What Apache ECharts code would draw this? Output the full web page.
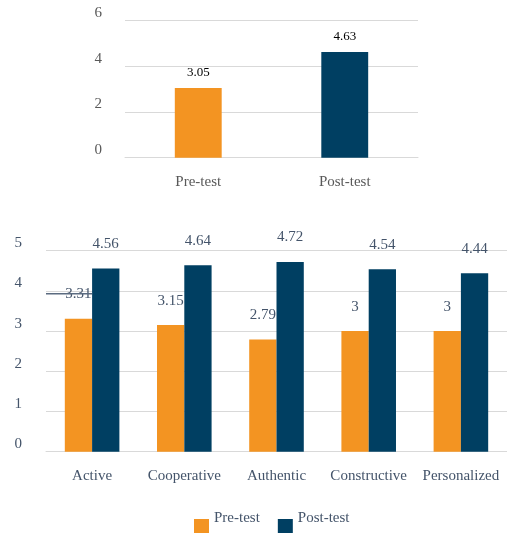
<!DOCTYPE html>
<html><head><meta charset="utf-8">
<script src="https://cdn.jsdelivr.net/npm/echarts@6/dist/echarts.min.js"></script>
<style>html,body{margin:0;padding:0;background:#fff}#c{width:507px;height:535px}</style>
</head><body><div id="c"></div>
<script>
// Top chart data
const overallCategories = ['Pre-test', 'Post-test'];
const overallValues = [3.05, 4.63];
const overallTicks = [0, 2, 4, 6];
// Bottom chart data
const dimensionCategories = ['Active', 'Cooperative', 'Authentic', 'Constructive', 'Personalized'];
const preTestValues = [3.31, 3.15, 2.79, 3, 3];
const postTestValues = [4.56, 4.64, 4.72, 4.54, 4.44];
const dimensionTicks = [0, 1, 2, 3, 4, 5];
const seriesNames = ['Pre-test', 'Post-test'];
// stray leader line seen in the source image: [category position, value]
const strayLineX = [-0.5, 0];
const strayLineY = [3.93, 3.93];

const ORANGE = '#F39422';
const NAVY = '#003F62';
const FONT = '"Liberation Serif", "Times New Roman", serif';
const GRID = '#D9D9D9';

const chart = echarts.init(document.getElementById('c'));
chart.setOption({
  animation: false,
  textStyle: { fontFamily: FONT },
  color: [ORANGE, NAVY],
  grid: [
    { left: 125, right: 89, top: 20.7, bottom: 377.3 },
    { left: 46, right: -3.5, top: 250.7, bottom: 83.3 }
  ],
  legend: {
    data: seriesNames,
    left: 189, top: 506,
    icon: 'rect', itemWidth: 15, itemHeight: 14, itemGap: 18,
    formatter: '{a|{name}}',
    textStyle: {
      fontFamily: FONT, fontSize: 15, color: '#44546A',
      rich: { a: { fontFamily: FONT, fontSize: 15, color: '#44546A', lineHeight: 30, verticalAlign: 'top' } }
    }
  },
  xAxis: [
    {
      gridIndex: 0, type: 'category', data: overallCategories,
      axisLine: { lineStyle: { color: GRID, width: 1 } }, axisTick: { show: false },
      axisLabel: { fontFamily: FONT, fontSize: 15, color: '#595959', margin: 17 }
    },
    {
      gridIndex: 1, type: 'category', data: dimensionCategories,
      axisLine: { lineStyle: { color: GRID, width: 1 } }, axisTick: { show: false },
      axisLabel: { fontFamily: FONT, fontSize: 15, color: '#44546A', margin: 17, interval: 0 }
    },
    {
      gridIndex: 1, type: 'value', min: -0.5, max: dimensionCategories.length - 0.5, show: false
    }
  ],
  yAxis: [
    {
      gridIndex: 0, type: 'value', min: overallTicks[0], max: overallTicks[overallTicks.length - 1],
      interval: overallTicks[1] - overallTicks[0],
      axisLine: { show: false }, axisTick: { show: false },
      splitLine: { lineStyle: { color: GRID } },
      axisLabel: { fontFamily: FONT, fontSize: 15, color: '#595959', margin: 23, verticalAlign: 'bottom' }
    },
    {
      gridIndex: 1, type: 'value', min: dimensionTicks[0], max: dimensionTicks[dimensionTicks.length - 1],
      interval: dimensionTicks[1] - dimensionTicks[0],
      axisLine: { show: false }, axisTick: { show: false },
      splitLine: { lineStyle: { color: GRID } },
      axisLabel: { fontFamily: FONT, fontSize: 15, color: '#44546A', margin: 24, verticalAlign: 'bottom' }
    }
  ],
  series: [
    {
      type: 'bar', xAxisIndex: 0, yAxisIndex: 0, barWidth: '32%',
      data: overallValues.map((v, i) => ({ value: v, itemStyle: { color: i === 0 ? ORANGE : NAVY } })),
      label: { show: true, position: 'top', distance: 9, fontFamily: FONT, fontSize: 13, color: '#000' }
    },
    {
      name: seriesNames[0], type: 'bar', xAxisIndex: 1, yAxisIndex: 1, barWidth: '29.6%', barGap: '0%',
      data: preTestValues, itemStyle: { color: ORANGE },
      label: { show: true, position: 'top', distance: 17, fontFamily: FONT, fontSize: 15, color: '#44546A' }
    },
    {
      name: seriesNames[1], type: 'bar', xAxisIndex: 1, yAxisIndex: 1, barWidth: '29.6%', barGap: '0%',
      data: postTestValues, itemStyle: { color: NAVY },
      label: { show: true, position: 'top', distance: 17, fontFamily: FONT, fontSize: 15, color: '#44546A' }
    },
    {
      type: 'line', xAxisIndex: 2, yAxisIndex: 1, silent: true, symbol: 'none', z: 5,
      lineStyle: { color: '#5B6B80', width: 1.5 },
      data: strayLineX.map((x, i) => [x, strayLineY[i]])
    }
  ]
});
</script></body></html>
